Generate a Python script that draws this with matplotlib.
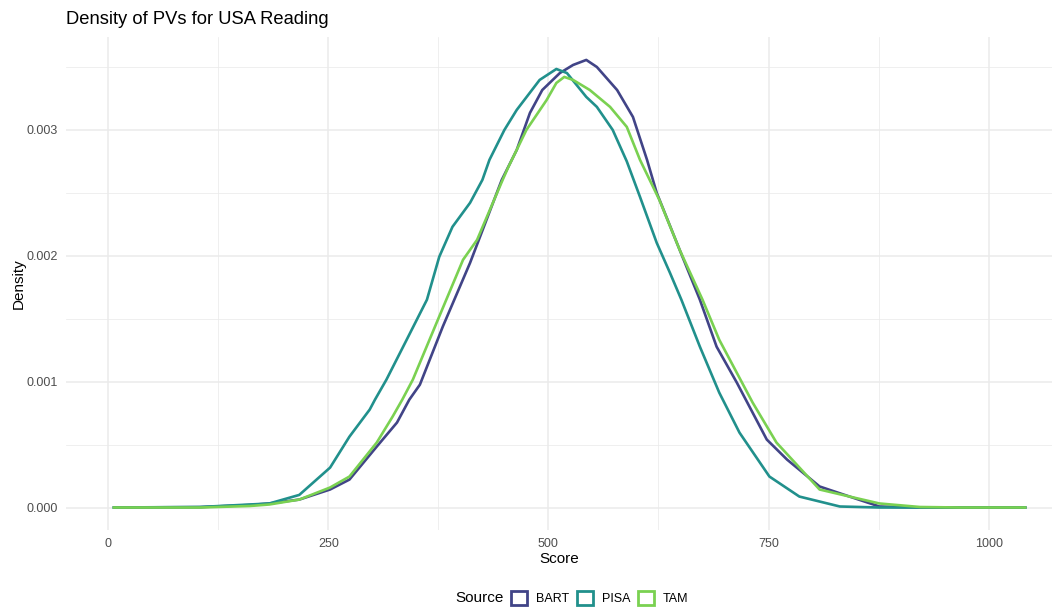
import numpy as np
import matplotlib.pyplot as plt
from matplotlib.patches import Patch

plt.rcParams['font.family'] = ['Liberation Sans', 'DejaVu Sans']

# density curves (score, density)
bart_x = [5, 104, 161, 183, 217, 252, 274, 305, 328, 342, 354, 380, 411, 447, 464,
          479, 493, 513, 528, 543, 555, 578, 596, 612, 623, 649, 672, 691, 714, 748,
          771, 808, 842, 876, 922, 1043]
bart_y = [0, 0.003, 0.020, 0.032, 0.063, 0.143, 0.222, 0.484, 0.675, 0.857, 0.976,
          1.437, 1.944, 2.603, 2.841, 3.135, 3.317, 3.452, 3.516, 3.556, 3.500, 3.317,
          3.103, 2.762, 2.500, 2.048, 1.651, 1.278, 0.992, 0.540, 0.381, 0.167, 0.087,
          0.008, 0, 0]

pisa_x = [5, 104, 161, 183, 217, 252, 274, 297, 303, 316, 339, 362, 376, 391, 411,
          425, 433, 450, 464, 490, 509, 521, 543, 555, 573, 589, 604, 623, 638, 651,
          672, 694, 717, 751, 785, 831, 876, 1043]
pisa_y = [0, 0.004, 0.024, 0.032, 0.100, 0.317, 0.563, 0.778, 0.857, 1.016, 1.333,
          1.651, 1.992, 2.230, 2.421, 2.603, 2.762, 3.000, 3.159, 3.397, 3.484, 3.452,
          3.262, 3.183, 3.000, 2.750, 2.468, 2.103, 1.865, 1.651, 1.278, 0.913, 0.595,
          0.246, 0.087, 0.008, 0, 0]

tam_x = [5, 104, 161, 183, 217, 252, 274, 305, 323, 334, 346, 373, 403, 419, 448,
         454, 475, 498, 509, 518, 528, 547, 570, 589, 604, 626, 649, 675, 694, 732,
         759, 808, 842, 876, 922, 967, 1043]
tam_y = [0, 0, 0.012, 0.024, 0.063, 0.159, 0.246, 0.516, 0.722, 0.857, 1.016, 1.468,
         1.968, 2.127, 2.603, 2.698, 3.000, 3.238, 3.373, 3.421, 3.397, 3.317, 3.183,
         3.024, 2.762, 2.444, 2.048, 1.651, 1.333, 0.833, 0.516, 0.143, 0.087, 0.032,
         0.004, 0, 0]

sources = ["BART", "PISA", "TAM"]
colors = ["#414487", "#21908C", "#7AD151"]

fig = plt.figure(figsize=(10.57, 6.07), dpi=100)
ax = fig.add_axes([0.0624, 0.127, 0.9329, 0.812])

for xs, ys, c in zip([bart_x, pisa_x, tam_x], [bart_y, pisa_y, tam_y], colors):
    ax.plot(xs, np.array(ys) / 1000, color=c, lw=1.9, solid_joinstyle="round",
            solid_capstyle="butt")

ax.set_xlim(-48, 1072)
ax.set_ylim(-0.000178, 0.003738)
ax.set_xticks([0, 250, 500, 750, 1000])
ax.set_xticks([125, 375, 625, 875], minor=True)
ax.set_yticks([0, 0.001, 0.002, 0.003])
ax.set_yticks([0.0005, 0.0015, 0.0025, 0.0035], minor=True)
ax.set_yticklabels(["0.000", "0.001", "0.002", "0.003"])

ax.grid(True, which="major", color="#EBEBEB", lw=1.1)
ax.grid(True, which="minor", color="#EBEBEB", lw=0.55)
ax.set_axisbelow(True)
for s in ax.spines.values():
    s.set_visible(False)
ax.tick_params(which="both", length=0, labelsize=9, labelcolor="#4D4D4D", pad=6)

ax.set_xlabel("Score", fontsize=11, labelpad=1)
ax.set_ylabel("Density", fontsize=11, labelpad=0.5)
fig.text(66 / 1057, 1 - 20 / 607, "Density of PVs for USA Reading", fontsize=13.2,
         va="center", ha="left")

handles = [Patch(facecolor="white", edgecolor=c, lw=2) for c in colors]
fig.text(455 / 1057, 1 - 598 / 607, "Source", fontsize=11, va="center", ha="left")
fig.legend(handles, sources, loc="center left", bbox_to_anchor=(511 / 1057, 1 - 598 / 607),
           ncol=3, frameon=False, fontsize=9, handlelength=1.3, handleheight=1.3,
           handletextpad=0.7, columnspacing=0.6, borderaxespad=0, borderpad=0)

fig.savefig("out.png", dpi=100)
